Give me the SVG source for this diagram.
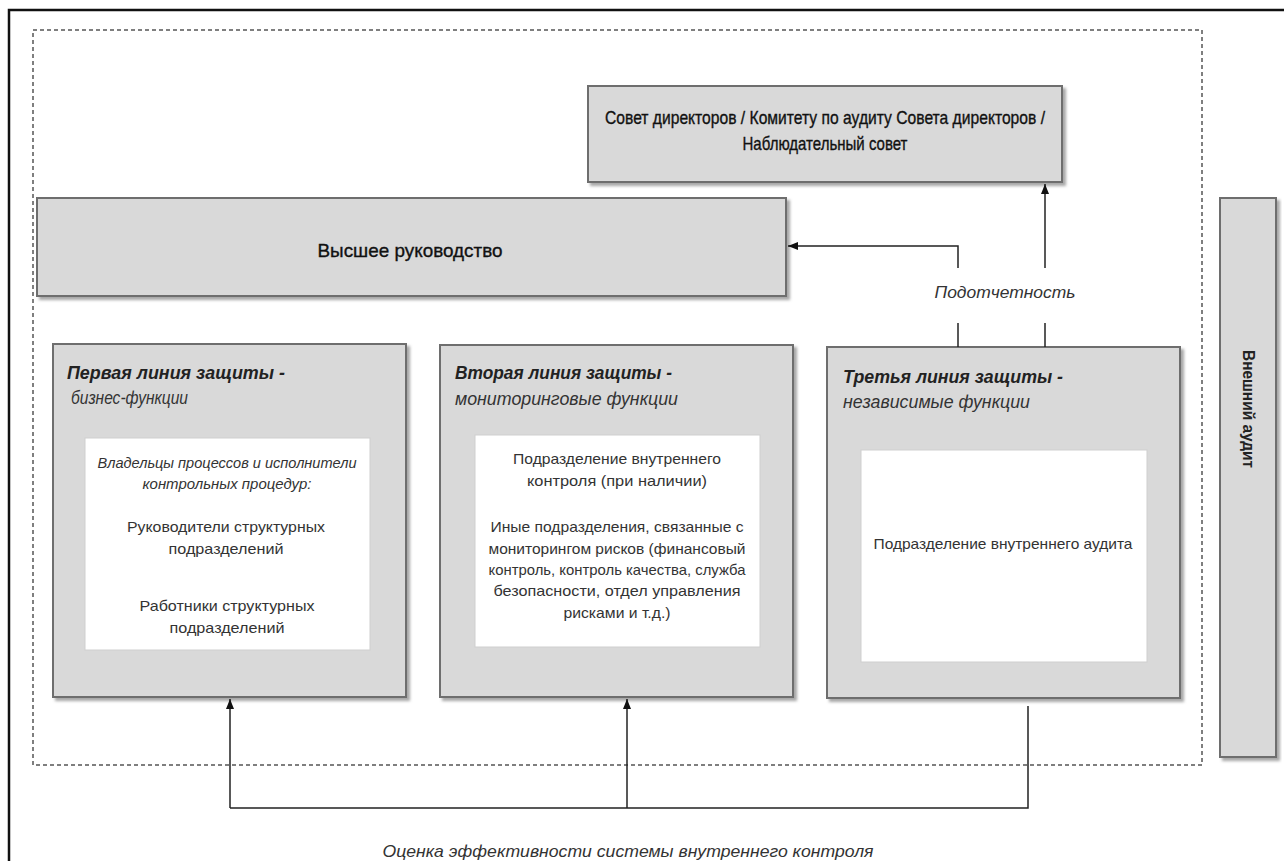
<svg xmlns="http://www.w3.org/2000/svg" width="1284" height="861" viewBox="0 0 1284 861">
<defs>
<filter id="sh" x="-5%" y="-5%" width="115%" height="115%">
<feDropShadow dx="3" dy="3" stdDeviation="1.5" flood-color="#808080" flood-opacity="0.7"/>
</filter>
<marker id="arr" markerUnits="userSpaceOnUse" markerWidth="10" markerHeight="8" refX="10" refY="4" orient="auto">
<path d="M0,0 L10,4 L0,8 z" fill="#111"/>
</marker>
<style>
.box{fill:#d9d9d9;stroke:#6e6e6e;stroke-width:2;filter:url(#sh)}
.inner{fill:#fff;stroke:#cfcfcf;stroke-width:1}
.t{font-family:"Liberation Sans",Arial,sans-serif;fill:#222}
.hdr{font-size:18px;font-weight:bold;font-style:italic}
.sub{font-size:18px;font-style:italic;fill:#333}
.in{font-size:15px;text-anchor:middle;fill:#333}
.ini{font-size:14px;font-style:italic;text-anchor:middle;fill:#333}
.big{font-size:19px;text-anchor:middle;fill:#111;stroke:#111;stroke-width:0.35}
.lbl{font-size:17px;font-style:italic;text-anchor:middle;fill:#333}
.con{fill:none;stroke:#222;stroke-width:1.5}
</style>
</defs>
<rect x="0" y="0" width="1284" height="861" fill="#fff"/>
<path d="M9,861 V10 H1284" fill="none" stroke="#111" stroke-width="2.5"/>
<rect x="33" y="30" width="1169" height="735" fill="none" stroke="#555" stroke-width="1.5" stroke-dasharray="4 3"/>

<g id="board">
<rect class="box" x="588" y="86" width="474" height="96"/>
<text class="t big" x="825" y="124" textLength="440" lengthAdjust="spacingAndGlyphs">Совет директоров / Комитету по аудиту Совета директоров /</text>
<text class="t big" x="825" y="150" textLength="165" lengthAdjust="spacingAndGlyphs">Наблюдательный  совет</text>
</g>

<g id="top-management">
<rect class="box" x="37" y="198" width="749" height="98"/>
<text class="t big" x="410" y="257" textLength="185" lengthAdjust="spacingAndGlyphs">Высшее руководство</text>
</g>

<g id="line1">
<rect class="box" x="53" y="344" width="353" height="353"/>
<text class="t hdr" x="67" y="379" textLength="218" lengthAdjust="spacingAndGlyphs">Первая линия защиты -</text>
<text class="t sub" x="71" y="404" textLength="117" lengthAdjust="spacingAndGlyphs">бизнес-функции</text>
<rect class="inner" x="85" y="438" width="285" height="212"/>
<text class="t ini" x="227" y="468" textLength="259" lengthAdjust="spacingAndGlyphs">Владельцы процессов и исполнители</text>
<text class="t ini" x="227" y="489" textLength="169" lengthAdjust="spacingAndGlyphs">контрольных процедур:</text>
<text class="t in" x="226" y="532" textLength="198" lengthAdjust="spacingAndGlyphs">Руководители структурных</text>
<text class="t in" x="226" y="554" textLength="115" lengthAdjust="spacingAndGlyphs">подразделений</text>
<text class="t in" x="227" y="611" textLength="175" lengthAdjust="spacingAndGlyphs">Работники структурных</text>
<text class="t in" x="227" y="633" textLength="115" lengthAdjust="spacingAndGlyphs">подразделений</text>
</g>

<g id="line2">
<rect class="box" x="440" y="345" width="353" height="352"/>
<text class="t hdr" x="455" y="379" textLength="217" lengthAdjust="spacingAndGlyphs">Вторая линия защиты -</text>
<text class="t sub" x="455" y="405" textLength="223" lengthAdjust="spacingAndGlyphs">мониторинговые  функции</text>
<rect class="inner" x="475" y="435" width="285" height="212"/>
<text class="t in" x="617" y="464" textLength="208" lengthAdjust="spacingAndGlyphs">Подразделение внутреннего</text>
<text class="t in" x="617" y="486" textLength="180" lengthAdjust="spacingAndGlyphs">контроля (при наличии)</text>
<text class="t in" x="617" y="532" textLength="253" lengthAdjust="spacingAndGlyphs">Иные подразделения, связанные с</text>
<text class="t in" x="617" y="554" textLength="257" lengthAdjust="spacingAndGlyphs">мониторингом рисков (финансовый</text>
<text class="t in" x="617" y="575" textLength="257" lengthAdjust="spacingAndGlyphs">контроль, контроль качества, служба</text>
<text class="t in" x="617" y="596" textLength="247" lengthAdjust="spacingAndGlyphs">безопасности, отдел управления</text>
<text class="t in" x="617" y="618" textLength="107" lengthAdjust="spacingAndGlyphs">рисками и т.д.)</text>
</g>

<g id="line3">
<rect class="box" x="827" y="347" width="353" height="351"/>
<text class="t hdr" x="843" y="383" textLength="220" lengthAdjust="spacingAndGlyphs">Третья линия защиты -</text>
<text class="t sub" x="843" y="408" textLength="187" lengthAdjust="spacingAndGlyphs">независимые функции</text>
<rect class="inner" x="861" y="450" width="286" height="212"/>
<text class="t in" x="1003" y="549" textLength="259" lengthAdjust="spacingAndGlyphs">Подразделение внутреннего аудита</text>
</g>

<g id="external-audit">
<rect class="box" x="1220" y="198" width="56" height="559"/>
<text class="t" transform="translate(1243,409) rotate(90)" text-anchor="middle" font-size="16" font-weight="bold" fill="#111" textLength="118" lengthAdjust="spacingAndGlyphs">Внешний аудит</text>
</g>

<g id="connectors">
<path class="con" d="M958,347 V323"/>
<path class="con" d="M958,268 V246 H788" marker-end="url(#arr)"/>
<path class="con" d="M1045,347 V323"/>
<path class="con" d="M1045,268 V184" marker-end="url(#arr)"/>
<path class="con" d="M230,808 H1028 V706"/>
<path class="con" d="M230,808 V699" marker-end="url(#arr)"/>
<path class="con" d="M627,808 V699" marker-end="url(#arr)"/>
</g>

<g id="labels">
<text class="t lbl" x="1005" y="298" textLength="141" lengthAdjust="spacingAndGlyphs">Подотчетность</text>
<text class="t lbl" x="628" y="857" textLength="491" lengthAdjust="spacingAndGlyphs">Оценка эффективности  системы внутреннего  контроля</text>
</g>
</svg>
